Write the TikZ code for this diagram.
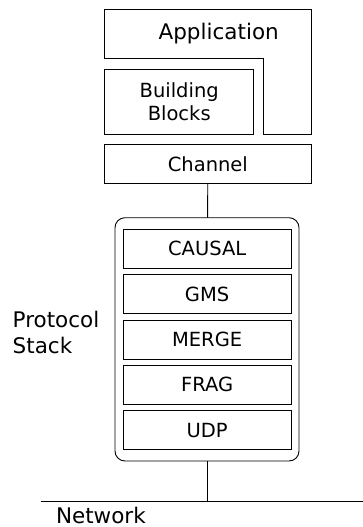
\documentclass[tikz,border=0pt]{standalone}
\usepackage{fontspec}
\setmainfont{DejaVu Sans}
\usetikzlibrary{positioning}

\begin{document}
\begin{tikzpicture}[
    x=1pt, y=-1pt,
    every node/.style={inner sep=0pt, outer sep=0pt, font=\fontsize{19.5}{22.5}\selectfont},
    block/.style={draw, line width=0.9pt, anchor=center, align=center},
    layer/.style={draw, line width=0.9pt, anchor=center, minimum width=167.7pt, minimum height=39pt},
    stack/.style={draw, line width=0.9pt, rounded corners=10pt, anchor=center, minimum width=184pt, minimum height=243.3pt},
    label/.style={anchor=west, align=left, font=\fontsize{21.5}{25.3}\selectfont},
    wire/.style={-, line width=0.9pt}
    ]
\useasboundingbox (0,0) rectangle (363,527);

% Application and Building Blocks
\draw[line width=0.9pt] (104.7,9) -- (311,9) -- (311,134) -- (263.7,134) -- (263.7,58.3) -- (104.7,58.3) -- cycle;
\node[font=\fontsize{21.5}{25}\selectfont] (App Label) at (218.7,33.5) {Application};
\node[block, minimum width=149pt, minimum height=64.7pt] (Blocks) at (179.2,101.65) {Building\\Blocks};

% Channel
\node[block, minimum width=206.3pt, minimum height=38.6pt] (Channel) at (207.85,164) {Channel};

% Protocol Stack
\node[stack] (Stack) at (207,339.35) {};
\node[layer] (Causal) at (207.15,248.8) {CAUSAL};
\node[layer] (Gms) at (207.15,294.1) {GMS};
\node[layer] (Merge) at (207.15,339.5) {MERGE};
\node[layer] (Frag) at (207.15,384.8) {FRAG};
\node[layer] (Udp) at (207.15,430.1) {UDP};
\node[label] (Stack Label) at (12.7,332.5) {Protocol\\Stack};

% Network
\coordinate (Net West) at (40.7,501.7);
\coordinate (Net East) at (363,501.7);
\node[label] (Net Label) at (56,515.3) {Network};

% Wires
\draw[wire] (Channel) to (Stack);
\draw[wire] (Net West) to (Net East);
\draw[wire] (Stack.south) to (Stack.south |- Net West);

\end{tikzpicture}
\end{document}
